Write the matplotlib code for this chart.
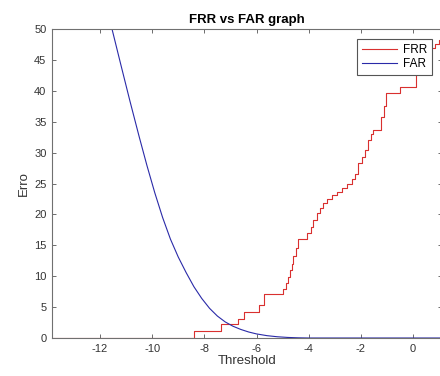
import matplotlib
matplotlib.use("Agg")
import matplotlib.pyplot as plt

plt.rcParams['font.family'] = ['Liberation Sans', 'DejaVu Sans']
plt.rcParams['axes.unicode_minus'] = False

# FAR curve
far_x = [-12.0, -11.54, -11.2, -10.85, -10.5, -10.2, -9.9, -9.6, -9.3, -9.0,
         -8.7, -8.4, -8.1, -7.8, -7.5, -7.2, -6.9, -6.6, -6.3, -6.0,
         -5.6, -5.2, -4.8, -4.4, -4.0, -2.0, 0.0, 1.5]
far_y = [58, 50, 44.2, 38.3, 32.6, 27.9, 23.5, 19.5, 16.0, 13.1,
         10.6, 8.3, 6.4, 4.8, 3.55, 2.6, 1.9, 1.38, 0.97, 0.66,
         0.38, 0.2, 0.09, 0.03, 0, 0, 0, 0]

# FRR step curve
frr_x = [-14.0, -8.39, -7.37, -6.70, -6.47, -5.90, -5.71, -5.00, -4.88, -4.80,
         -4.72, -4.65, -4.59, -4.50, -4.40, -4.08, -3.92, -3.82, -3.69, -3.55,
         -3.44, -3.30, -3.12, -2.93, -2.73, -2.54, -2.35, -2.22, -2.10, -1.95,
         -1.85, -1.71, -1.60, -1.52, -1.22, -1.12, -1.04, -0.50, 0.10, 0.20,
         0.35, 0.50, 0.65, 0.85, 1.00, 1.5]
frr_y = [0, 1.1, 2.2, 3.0, 4.2, 5.4, 7.1, 8.0, 8.9, 9.9,
         11.0, 12.0, 13.2, 14.5, 16.1, 17.0, 18.0, 19.1, 20.3, 21.0,
         21.8, 22.5, 23.1, 23.7, 24.2, 25.0, 25.8, 26.6, 28.3, 29.3,
         30.5, 32.0, 33.0, 33.7, 35.8, 37.5, 39.6, 40.6, 42.8, 43.8,
         44.8, 46.3, 46.9, 47.6, 48.2, 48.5]

fig = plt.figure(figsize=(4.4, 3.76), dpi=100)
ax = fig.add_axes([52/440, 38/376, 390/440, 309/376])

ax.plot(frr_x, frr_y, color='#d9302f', lw=0.8, drawstyle='steps-post', label='FRR')
ax.plot(far_x, far_y, color='#2a2aa8', lw=0.8, label='FAR')

ax.set_xlim(-13.84, 1.11)
ax.set_ylim(0, 50)
ax.set_xticks([-12, -10, -8, -6, -4, -2, 0])
ax.set_yticks(range(0, 51, 5))

for s in ax.spines.values():
    s.set_color('#707070')
    s.set_linewidth(0.8)
ax.tick_params(direction='in', top=True, right=True, length=3, width=0.6,
               color='#555555', labelcolor='#333333', labelsize=8, pad=4)

ax.set_title('FRR vs FAR graph', fontsize=9.5, fontweight='bold', pad=4)
ax.set_xlabel('Threshold', fontsize=9.5, color='#333333', labelpad=1)
ax.set_ylabel('Erro', fontsize=9.5, color='#333333', labelpad=3)

leg = ax.legend(loc='upper right', bbox_to_anchor=(432/440, 1 - 39/376),
                bbox_transform=fig.transFigure, borderaxespad=0, fontsize=8.5,
                fancybox=False, framealpha=1, edgecolor='#555555',
                handlelength=3.0, handletextpad=0.5, borderpad=0.4,
                labelspacing=0.2)
leg.get_frame().set_linewidth(0.8)

fig.savefig('out.png', dpi=100)
